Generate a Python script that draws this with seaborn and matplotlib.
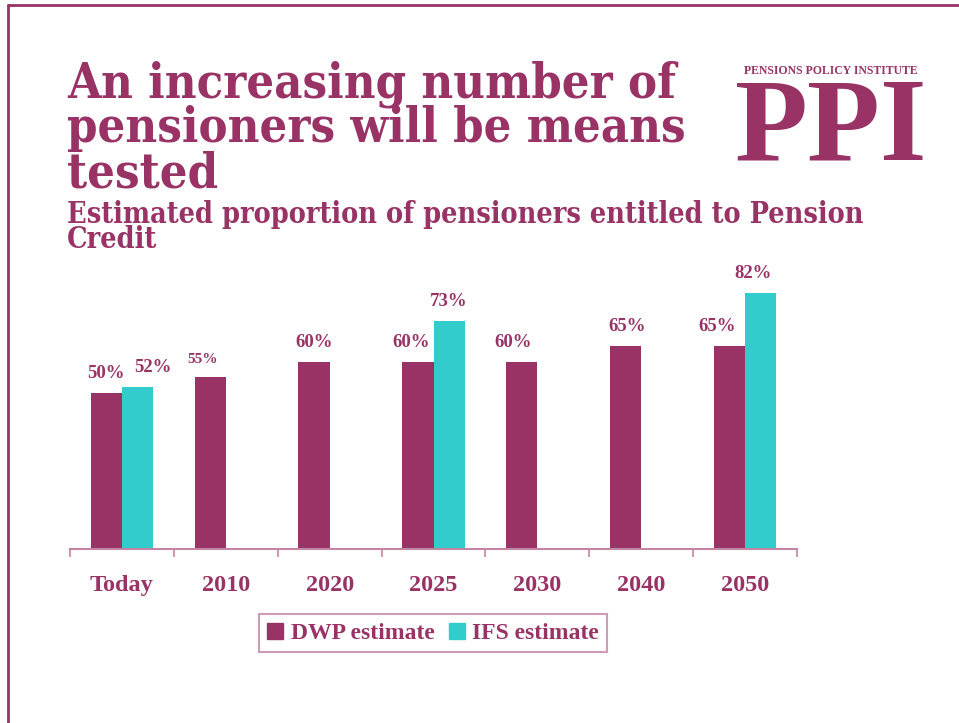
import numpy as np
import pandas as pd
import matplotlib
matplotlib.use("Agg")
import matplotlib.pyplot as plt
from matplotlib.lines import Line2D
import seaborn as sns

# Data
periods = ["Today", "2010", "2020", "2025", "2030", "2040", "2050"]
dwp_estimate = [50, 55, 60, 60, 60, 65, 65]
ifs_estimate = [52, np.nan, np.nan, 73, np.nan, np.nan, 82]
series_names = ["DWP estimate", "IFS estimate"]

# Small horizontal nudges (pixels) for the value labels
dwp_label_dx = [0, -8, 0, -7, -9, 1, -12]
ifs_label_dx = [15, 0, 0, 0, 0, 0, -8]
dwp_label_fs = [13.5, 11, 13.5, 13.5, 13.5, 13.5, 13.5]

MAROON = "#993366"
CYAN = "#33CCCC"
AXIS_PINK = "#C484A6"

sns.set_theme(style="white")
plt.rcParams["font.family"] = ["DejaVu Serif", "DejaVu Sans"]

W, H = 959, 723
fig = plt.figure(figsize=(W / 100, H / 100), dpi=100)
renderer = fig.canvas.get_renderer()


def fitted_size(text, size, width_px, **kw):
    """Font size at which `text` spans `width_px` pixels."""
    t = fig.text(0, 0, text, fontsize=size, **kw)
    w = t.get_window_extent(renderer).width
    t.remove()
    return size * width_px / w


df = pd.DataFrame({
    "period": periods * 2,
    "share": dwp_estimate + ifs_estimate,
    "source": [series_names[0]] * len(periods) + [series_names[1]] * len(periods),
})

ax = fig.add_axes([70 / W, 1 - 549 / H, (797 - 70) / W, (549 - 237) / H])
sns.barplot(data=df, x="period", y="share", hue="source", order=periods,
            hue_order=series_names, palette=[MAROON, CYAN], width=0.6,
            saturation=1, errorbar=None, legend=False, linewidth=0, ax=ax)
ax.set_xlim(-0.5, len(periods) - 0.5)
ax.set_ylim(0, 100)
ax.set_xlabel("")
ax.set_ylabel("")
ax.set_yticks([])
for s in ["top", "right", "left"]:
    ax.spines[s].set_visible(False)
ax.spines["bottom"].set_color(AXIS_PINK)
ax.spines["bottom"].set_linewidth(1.5)

# Category labels at the centres, tick marks on the boundaries
ax.set_xticks(range(len(periods)))
ax.set_xticklabels(periods)
ax.tick_params(axis="x", which="major", length=0, pad=19)
ax.set_xticks(np.arange(-0.5, len(periods), 1.0), minor=True)
ax.tick_params(axis="x", which="minor", length=6, width=1.2,
               color=AXIS_PINK, direction="out", bottom=True)
for lab in ax.get_xticklabels():
    lab.set_fontfamily("Liberation Serif")
    lab.set_fontweight("bold")
    lab.set_fontsize(17.5)
    lab.set_color(MAROON)

# Value labels
off = 0.15
for i in range(len(periods)):
    v = dwp_estimate[i]
    ax.annotate(f"{v:.0f}%", (i - off, v), xytext=(dwp_label_dx[i] * 0.72, 8),
                textcoords="offset points", ha="center", va="bottom",
                fontfamily="Liberation Serif", fontweight="bold",
                fontsize=dwp_label_fs[i], color=MAROON)
    v = ifs_estimate[i]
    if not np.isnan(v):
        ax.annotate(f"{v:.0f}%", (i + off, v), xytext=(ifs_label_dx[i] * 0.72, 8),
                    textcoords="offset points", ha="center", va="bottom",
                    fontfamily="Liberation Serif", fontweight="bold",
                    fontsize=13.5, color=MAROON)

# Titles
head_kw = dict(fontweight="bold", fontfamily="DejaVu Serif", fontstretch="condensed")
title_lines = ["An increasing number of", "pensioners will be means", "tested"]
title_fs = min(38, fitted_size(title_lines[0], 38, 609, **head_kw))
for line, base in zip(title_lines, [97, 142, 187]):
    fig.text(67 / W, 1 - base / H, line, fontsize=title_fs, color=MAROON,
             ha="left", va="baseline", **head_kw)
sub_lines = ["Estimated proportion of pensioners entitled to Pension", "Credit"]
sub_fs = min(21, fitted_size(sub_lines[0], 21, 795, **head_kw))
for line, base in zip(sub_lines, [223, 248]):
    fig.text(67 / W, 1 - base / H, line, fontsize=sub_fs, color=MAROON,
             ha="left", va="baseline", **head_kw)

# Logo
fig.text(831 / W, 1 - 74 / H, "PENSIONS POLICY INSTITUTE", fontsize=8.5,
         color=MAROON, ha="center", va="baseline", fontfamily="Liberation Serif",
         fontweight="bold")
for ch, cx in zip("PPI", [771, 843, 903]):
    fig.text(cx / W, 1 - 160 / H, ch, fontsize=86, color=MAROON, ha="center",
             va="baseline", fontfamily="Liberation Serif", fontweight="bold")

# Legend
handles = [Line2D([], [], marker="s", linestyle="none", markersize=11,
                  markerfacecolor=c, markeredgecolor=c) for c in (MAROON, CYAN)]
leg = fig.legend(handles, series_names, loc="center",
                 bbox_to_anchor=(433 / W, 1 - 633 / H), ncol=2, frameon=True,
                 fancybox=False, handlelength=0.7, handletextpad=0.3,
                 columnspacing=0.6, borderpad=0.35,
                 prop={"family": "Liberation Serif", "weight": "bold", "size": 17})
leg.get_frame().set_edgecolor(AXIS_PINK)
leg.get_frame().set_linewidth(1.5)
for t in leg.get_texts():
    t.set_color(MAROON)

# Slide border (top and left)
fig.add_artist(Line2D([8 / W, 1], [1 - 5 / H, 1 - 5 / H], color=MAROON, lw=2))
fig.add_artist(Line2D([8 / W, 8 / W], [1 - 5 / H, 0], color=MAROON, lw=2))

fig.savefig("out.png", dpi=100)
